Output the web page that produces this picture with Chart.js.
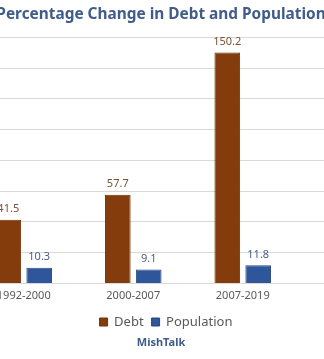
<!DOCTYPE html>
<html>
<head>
<meta charset="utf-8">
<script src="https://cdn.jsdelivr.net/npm/chart.js@4.4.1/dist/chart.umd.min.js"></script>
<style>
  html, body { margin: 0; padding: 0; background: #fff; overflow: hidden; }
  #wrap { position: absolute; left: -85px; top: 0; width: 492px; height: 359px; }
</style>
</head>
<body>
<div id="wrap"><canvas id="chart" width="492" height="359"></canvas></div>
<script>
// the picture is a crop: the 4th period sits off to the right, its values are not visible
const periods = ['1992-2000', '2000-2007', '2007-2019', ''];
const debtChange = [41.5, 57.7, 150.2, null];
const populationChange = [10.3, 9.1, 11.8, null];
const yTicks = [0, 20, 40, 60, 80, 100, 120, 140, 160];

const FONT = "'Noto Sans', sans-serif";

// draws the value over each bar, coloured like its series
const valueLabels = {
    id: 'valueLabels',
    afterLayout(chart) {
        // the legend sits a little right of centre in the original
        chart.legend.left += 5;
        chart.legend.right += 5;
    },
    afterDatasetsDraw(chart) {
        const ctx = chart.ctx;
        ctx.save();
        ctx.font = `11px ${FONT}`;
        ctx.textAlign = 'center';
        ctx.textBaseline = 'bottom';
        chart.data.datasets.forEach((ds, i) => {
            const meta = chart.getDatasetMeta(i);
            ctx.fillStyle = ds.labelColor;
            meta.data.forEach((bar, j) => {
                const v = ds.data[j];
                if (v == null) return;
                ctx.fillText(v.toFixed(1), bar.x, bar.y - 5);
            });
        });
        ctx.restore();
    }
};

new Chart(document.getElementById('chart'), {
    type: 'bar',
    data: {
        labels: periods,
        datasets: [{
            label: 'Debt',
            data: debtChange,
            backgroundColor: '#843C0C',
            borderColor: '#6E320A',
            borderWidth: 1,
            labelColor: '#7A5234',
            barPercentage: 0.83,
            categoryPercentage: 0.565
        }, {
            label: 'Population',
            data: populationChange,
            backgroundColor: '#2F559A',
            borderColor: '#27487F',
            borderWidth: 1,
            labelColor: '#4A5E85',
            barPercentage: 0.83,
            categoryPercentage: 0.565
        }]
    },
    options: {
        responsive: false,
        animation: false,
        layout: { padding: 0 },
        scales: {
            x: {
                grid: { display: false, drawTicks: false },
                border: { display: true, color: '#D9D9D9' },
                ticks: { color: '#595959', font: { family: FONT, size: 11 }, padding: 6 },
                afterFit: (scale) => { scale.height = 24; }
            },
            y: {
                min: 0,
                max: 160,
                afterBuildTicks: (scale) => { scale.ticks = yTicks.map(v => ({ value: v })); },
                afterFit: (scale) => { scale.width = 54; },
                grid: { color: '#D9D9D9', drawTicks: false },
                border: { display: false },
                ticks: { display: false }
            }
        },
        plugins: {
            title: {
                display: true,
                text: 'Percentage Change in Debt and Population',
                color: '#3F5C8A',
                font: { family: FONT, size: 15.4, weight: 'bold' },
                padding: { top: 5, bottom: 14 }
            },
            subtitle: {
                display: true,
                position: 'bottom',
                text: 'MishTalk',
                color: '#3F5C8A',
                font: { family: FONT, size: 11, weight: 'bold', lineHeight: 0.8 },
                padding: { top: 0, bottom: 11.7 }
            },
            legend: {
                position: 'bottom',
                labels: {
                    color: '#595959',
                    font: { family: FONT, size: 13 },
                    boxWidth: 8,
                    boxHeight: 8,
                    padding: 8,
                    filter: (item) => item.text !== ''
                }
            },
            tooltip: { enabled: false }
        }
    },
    plugins: [valueLabels]
});
</script>
</body>
</html>
